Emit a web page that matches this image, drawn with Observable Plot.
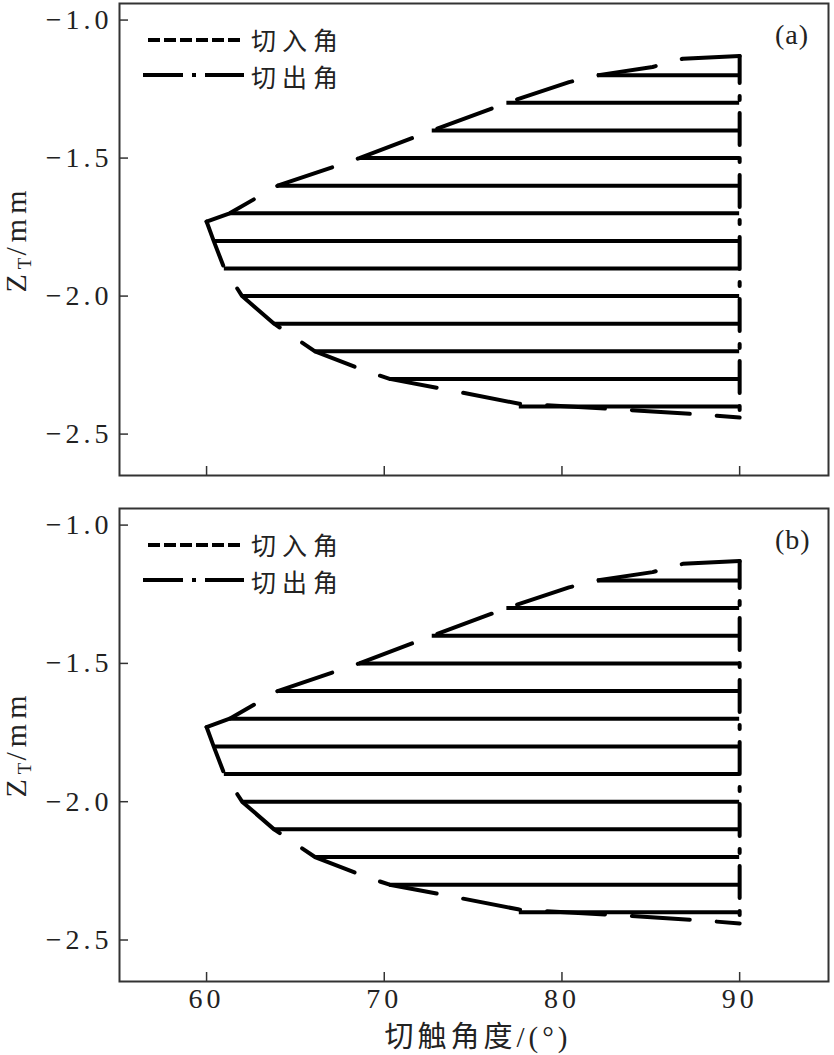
<!DOCTYPE html>
<html>
<head>
<meta charset="utf-8">
<script src="https://cdn.jsdelivr.net/npm/d3@7"></script>
<script src="https://cdn.jsdelivr.net/npm/@observablehq/plot@0.6"></script>
<style>
  body { margin: 0; background: #fff; }
  #wrap { position: relative; width: 834px; height: 1055px; overflow: hidden; background: #fff; }
  .panel { position: absolute; left: 0; }
  .panel [aria-label$="tick label"] text { letter-spacing: 4px; }
  .ylab { position: absolute; font-family: "Liberation Serif", serif; font-size: 30px; color: #222; letter-spacing: 5px;
          transform: translate(-50%, -50%) rotate(-90deg); white-space: nowrap; line-height: 1; }
  .ylab sub { font-size: 19px; vertical-align: -5px; letter-spacing: 2px; }
  .cjk { font-family: "Noto Sans CJK SC", sans-serif; }
  .serif { font-family: "Liberation Serif", serif; }
  .tag { position: absolute; font-family: "Liberation Serif", serif; font-size: 28px; color: #222; line-height: 1; letter-spacing: 1px; }
  .legtext { position: absolute; font-family: "Noto Sans CJK SC", sans-serif; font-size: 25px; color: #222;
             line-height: 1; letter-spacing: 6px; transform: translateY(-50%); white-space: nowrap; }
  .legsvg { position: absolute; overflow: visible; }
  .xlab { position: absolute; font-size: 29px; color: #222; line-height: 1; letter-spacing: 4px;
          transform: translate(-50%, -50%); white-space: nowrap; }
</style>
</head>
<body>
<div id="wrap"></div>
<script>
// ---- data ----
const levelZ     = [-1.2, -1.3, -1.4, -1.5, -1.6, -1.7, -1.8, -1.9, -2.0, -2.1, -2.2, -2.3, -2.4];
const levelEntry = [82.0, 76.9, 72.7, 68.6, 64.0, 61.3, 60.4, 61.0, 62.0, 63.8, 66.1, 70.3, 77.6];
const levelExit  = [90, 90, 90, 90, 90, 90, 90, 90, 90, 90, 90, 90, 90];

// 切入角 boundary, upper branch (from the top at 90° down to the turning point)
const entryUpperAngle = [90.0, 86.8, 85.1, 82.0, 80.4, 76.9, 72.7, 68.6, 64.0, 61.3, 60.0];
const entryUpperZ     = [-1.13, -1.14, -1.17, -1.20, -1.225, -1.30, -1.40, -1.50, -1.60, -1.70, -1.73];
// 切入角 boundary, lower branch (from the bottom at 90° up to the turning point)
const entryLowerAngle = [90.0, 88.0, 83.1, 77.6, 73.6, 70.3, 68.9, 66.1, 63.8, 62.0, 61.0, 60.4, 60.0];
const entryLowerZ     = [-2.44, -2.43, -2.41, -2.39, -2.34, -2.30, -2.27, -2.20, -2.10, -2.00, -1.90, -1.80, -1.73];

// 切出角 line
const exitAngle = [90, 90];
const exitZ     = [-1.13, -2.44];

const xTicks = [60, 70, 80, 90];
const yTicks = [-1.0, -1.5, -2.0, -2.5];
const panelTags = ["(a)", "(b)"];
const legendLabels = ["切入角", "切出角"];
const xLabelCJK = "切触角度";
const xLabelUnit = "/(°)";

// ---- build tables ----
const levels = levelZ.map((z, i) => ({z, entry: levelEntry[i], exit: levelExit[i]}));
const upper = entryUpperAngle.map((a, i) => ({a, z: entryUpperZ[i]}));
const lower = entryLowerAngle.map((a, i) => ({a, z: entryLowerZ[i]}));
const exitLine = exitAngle.map((a, i) => ({a, z: exitZ[i]}));

const wrap = document.getElementById("wrap");

function makePanel(withXLabels, height, marginBottom) {
  return Plot.plot({
    width: 834, height,
    marginLeft: 119, marginRight: 6, marginTop: 3, marginBottom,
    x: {domain: [55.1, 95.0]},
    y: {domain: [-2.65, -0.94]},
    style: {fontFamily: "'Liberation Serif', serif", fontSize: "28px", color: "#222", background: "transparent", overflow: "visible"},
    marks: [
      Plot.ruleY(levels, {y: "z", x1: "entry", x2: "exit", stroke: "#000", strokeWidth: 4}),
      Plot.line(upper, {x: "a", y: "z", stroke: "#000", strokeWidth: 4, strokeDasharray: "58,27", strokeDashoffset: 0}),
      Plot.line(lower, {x: "a", y: "z", stroke: "#000", strokeWidth: 4, strokeDasharray: "58,27", strokeDashoffset: 35}),
      Plot.line(exitLine, {x: "a", y: "z", stroke: "#000", strokeWidth: 4, strokeDasharray: "32,13,4,13", strokeDashoffset: 5}),
      Plot.frame({stroke: "#333", strokeWidth: 2}),
      Plot.axisX({ticks: xTicks, tickSize: -9, tickPadding: 16, stroke: "#333", strokeWidth: 1.5, fontSize: 28,
                  tickFormat: withXLabels ? (d => String(d)) : (() => ""), label: null}),
      Plot.axisY({ticks: yTicks, tickSize: -9, tickPadding: 16, stroke: "#333", strokeWidth: 1.5, fontSize: 28,
                  tickFormat: d3.format(".1f"), label: null})
    ]
  });
}

function addOverlay(top, tag) {
  // y label
  const yl = document.createElement("div");
  yl.className = "ylab";
  yl.style.left = "17px";
  yl.style.top = (top + 239) + "px";
  yl.innerHTML = "Z<sub>T</sub>/mm";
  wrap.appendChild(yl);

  // panel tag
  const t = document.createElement("div");
  t.className = "tag";
  t.style.left = "775px";
  t.style.top = (top + 21) + "px";
  t.textContent = tag;
  wrap.appendChild(t);

  // legend samples
  const ns = "http://www.w3.org/2000/svg";
  const svg = document.createElementNS(ns, "svg");
  svg.setAttribute("class", "legsvg");
  svg.setAttribute("width", "110");
  svg.setAttribute("height", "60");
  svg.style.left = "140px";
  svg.style.top = (top + 20) + "px";
  const l1 = document.createElementNS(ns, "line");
  l1.setAttribute("x1", 8); l1.setAttribute("x2", 104);
  l1.setAttribute("y1", 20); l1.setAttribute("y2", 20);
  l1.setAttribute("stroke", "#000"); l1.setAttribute("stroke-width", 4);
  l1.setAttribute("stroke-dasharray", "12,4");
  svg.appendChild(l1);
  const l2 = document.createElementNS(ns, "line");
  l2.setAttribute("x1", 3); l2.setAttribute("x2", 104);
  l2.setAttribute("y1", 55); l2.setAttribute("y2", 55);
  l2.setAttribute("stroke", "#000"); l2.setAttribute("stroke-width", 4);
  l2.setAttribute("stroke-dasharray", "40,9,4,9");
  svg.appendChild(l2);
  wrap.appendChild(svg);

  // legend labels
  legendLabels.forEach((lab, i) => {
    const d = document.createElement("div");
    d.className = "legtext";
    d.style.left = "251px";
    d.style.top = (top + 39 + i * 37) + "px";
    d.textContent = lab;
    wrap.appendChild(d);
  });
}

const pa = makePanel(false, 487, 12);
pa.classList.add("panel");
pa.style.top = "0px";
wrap.appendChild(pa);

const pb = makePanel(true, 550, 74);
pb.classList.add("panel");
pb.style.top = "505px";
wrap.appendChild(pb);

addOverlay(0, panelTags[0]);
addOverlay(505, panelTags[1]);

const xl = document.createElement("div");
xl.className = "xlab";
xl.style.left = "478px";
xl.style.top = "1036px";
xl.innerHTML = '<span class="cjk">' + xLabelCJK + '</span><span class="serif">' + xLabelUnit + '</span>';
wrap.appendChild(xl);
</script>
</body>
</html>
